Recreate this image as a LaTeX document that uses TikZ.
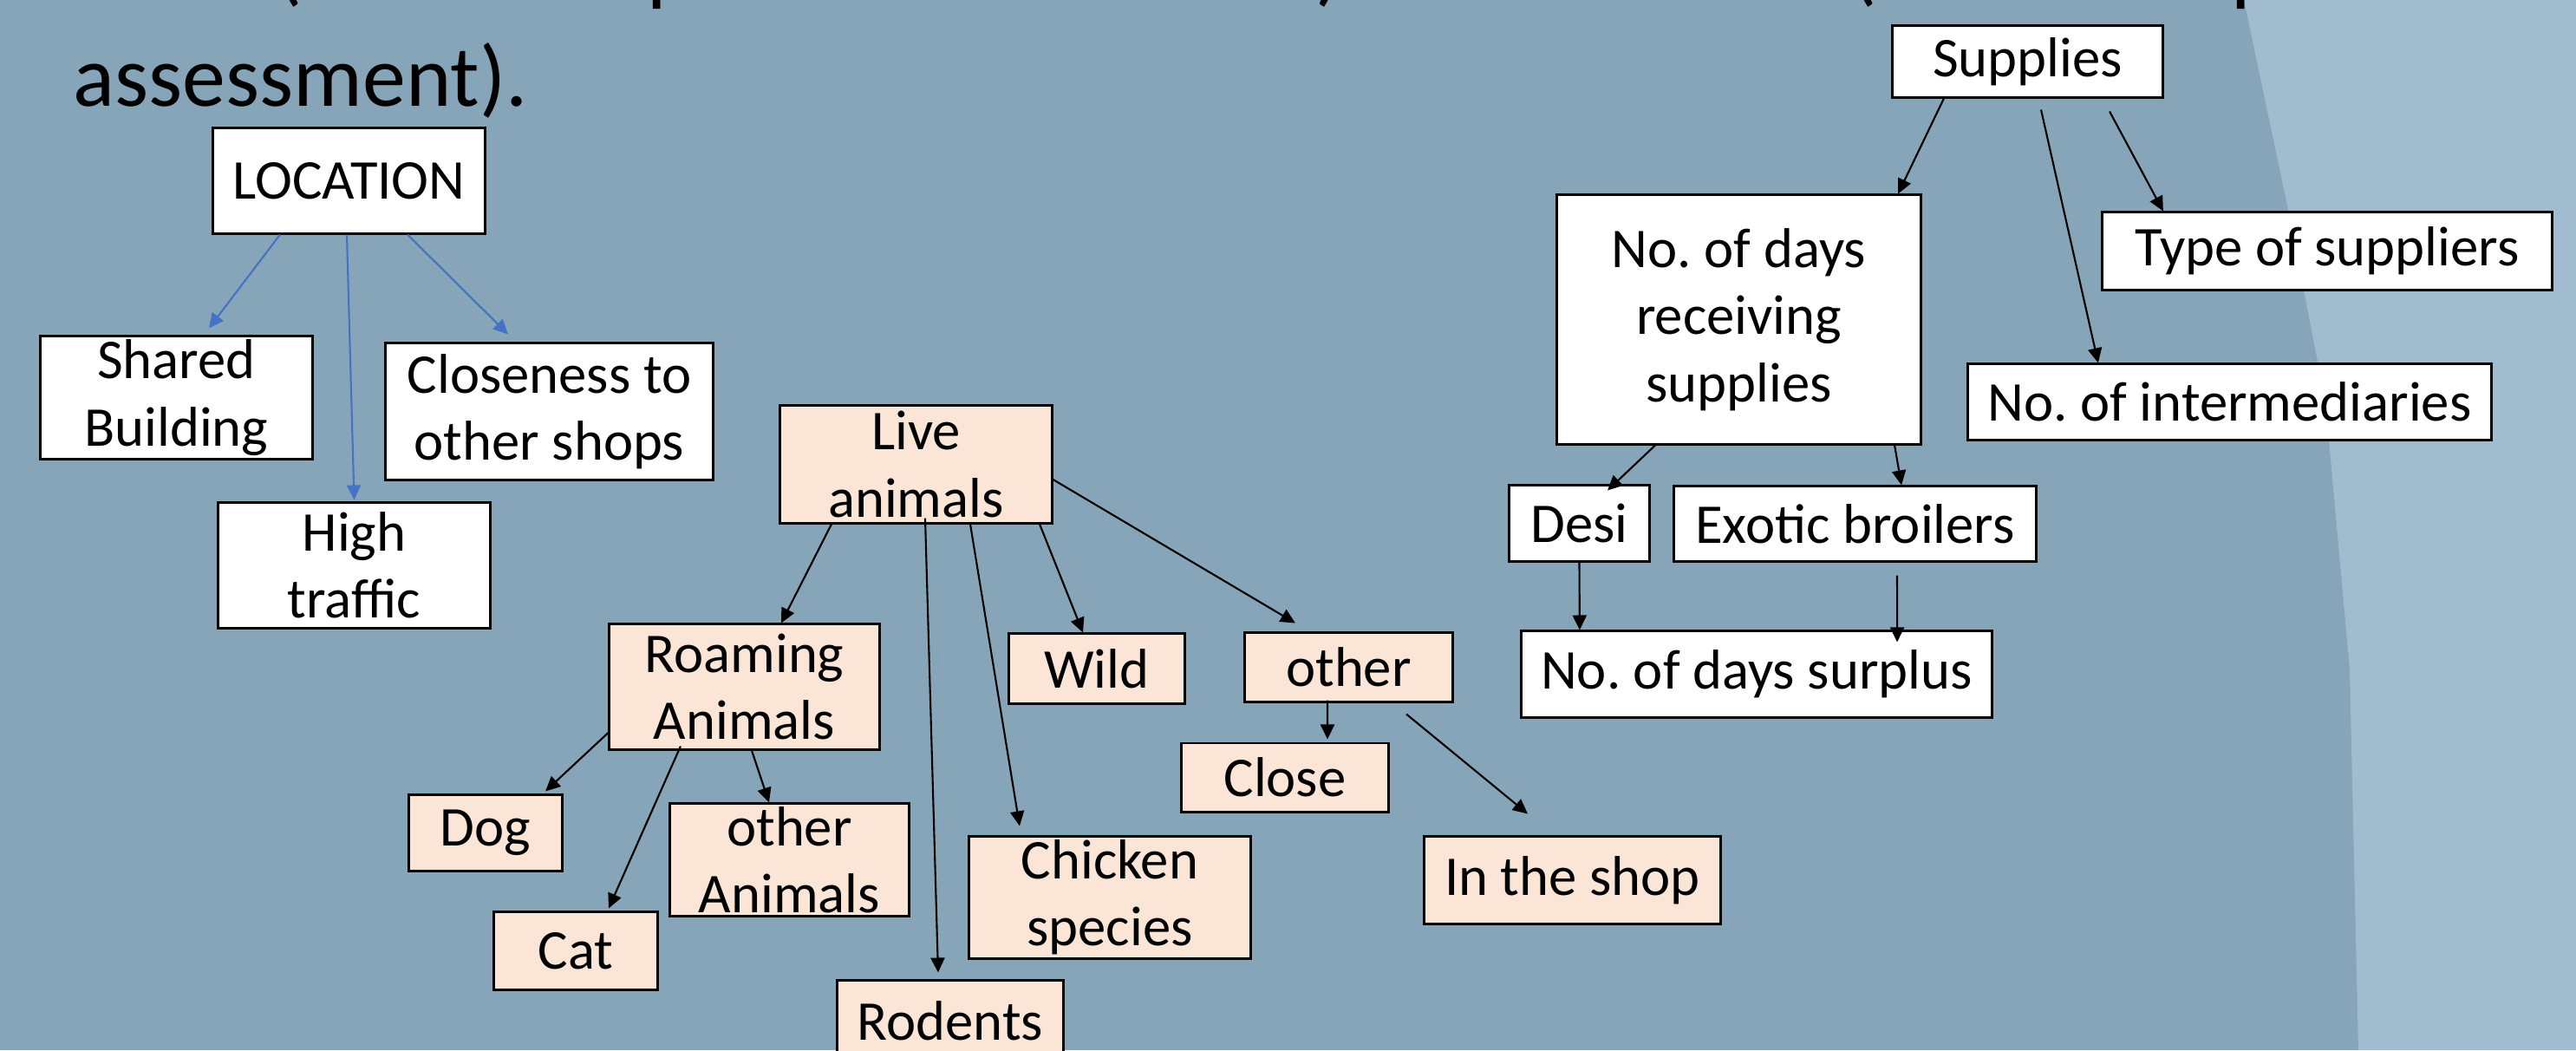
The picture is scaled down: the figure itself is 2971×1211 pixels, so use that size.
\documentclass[tikz,border=0pt]{standalone}
\usepackage{fontspec}
\setmainfont{Carlito}
\usetikzlibrary{arrows.meta,positioning}
\definecolor{slate}{RGB}{135,165,184}
\definecolor{lightslate}{RGB}{160,188,206}
\definecolor{peach}{RGB}{251,229,214}
\definecolor{linkblue}{RGB}{68,114,196}

\begin{document}
\frenchspacing
\begin{tikzpicture}[x=0.01cm, y=-0.01cm,
    box/.style={rectangle, draw=black, line width=0.85pt, align=center, inner sep=0pt, font=\fontsize{18.4}{22}\selectfont},
    wbox/.style={box, fill=white},
    pbox/.style={box, fill=peach},
    heading/.style={anchor=base west, inner sep=0pt, font=\fontsize{28.4}{34}\selectfont},
    arrow/.style={-{Triangle[length=1.7mm,width=1.6mm]}, line width=0.6pt, black},
    barrow/.style={arrow, linkblue}
]
    \useasboundingbox (0,0) rectangle (2971,1211);
    \clip (0,0) rectangle (2971,1211);
    \fill[slate] (0,0) rectangle (2971,1211);
    \fill[lightslate] (2588,0) -- (2637,232) -- (2682,463) -- (2710,772) -- (2720,1211) -- (2971,1211) -- (2971,0) -- cycle;

    % title lines, the first one cut by the top edge
    \node[heading] (titleA) at (318,-6) {(Animal exposure assessment) or to humans (Human exposure};
    \node[heading] (titleB) at (84,122) {assessment).};

    % location
    \node[wbox, minimum width=3.13cm, minimum height=1.21cm] (loc) at (402.5,208.5) {LOCATION};
    \node[wbox, minimum width=3.13cm, minimum height=1.41cm] (shared) at (203.5,458.5) {Shared\\Building};
    \node[wbox, minimum width=3.77cm, minimum height=1.57cm] (nearshops) at (633.5,474.5) {Closeness to\\other shops};
    \node[wbox, minimum width=3.13cm, minimum height=1.44cm] (traffic) at (408.5,652) {High\\traffic};

    % live animals
    \node[pbox, minimum width=3.13cm, minimum height=1.35cm] (live) at (1056.5,535.5) {Live\\animals};
    \node[pbox, minimum width=3.11cm, minimum height=1.44cm] (roam) at (858.5,792) {Roaming\\Animals};
    \node[pbox, minimum width=2.02cm, minimum height=0.80cm] (wild) at (1265,771) {Wild};
    \node[pbox, minimum width=2.39cm, minimum height=0.79cm] (other) at (1555.5,769.5) {other};
    \node[pbox, minimum width=2.38cm, minimum height=0.79cm] (closeby) at (1482,896.5) {Close};
    \node[pbox, minimum width=3.41cm, minimum height=1.00cm] (shop) at (1813.5,1015) {In the shop};
    \node[pbox, minimum width=1.76cm, minimum height=0.87cm] (dog) at (560,960.5) {Dog};
    \node[pbox, minimum width=2.75cm, minimum height=1.29cm] (otheran) at (910.5,991.5) {other\\Animals};
    \node[pbox, minimum width=1.88cm, minimum height=0.89cm] (cat) at (664,1096.5) {Cat};
    \node[pbox, minimum width=3.24cm, minimum height=1.40cm] (chicken) at (1280,1035) {Chicken\\species};
    \node[pbox, minimum width=2.60cm, minimum height=0.92cm] (rodents) at (1096,1177) {Rodents};

    % supplies
    \node[wbox, minimum width=3.11cm, minimum height=0.82cm] (supp) at (2338.5,71) {Supplies};
    \node[wbox, minimum width=4.19cm, minimum height=2.87cm] (days) at (2005.5,368.5) {No. of days\\receiving\\supplies};
    \node[wbox, minimum width=5.18cm, minimum height=0.89cm] (suptype) at (2684,289.5) {Type of suppliers};
    \node[wbox, minimum width=6.03cm, minimum height=0.87cm] (inter) at (2571.5,463.5) {No. of intermediaries};
    \node[wbox, minimum width=1.61cm, minimum height=0.87cm] (desi) at (1821.5,603.5) {Desi};
    \node[wbox, minimum width=4.17cm, minimum height=0.86cm] (exotic) at (2139.5,604) {Exotic broilers};
    \node[wbox, minimum width=5.42cm, minimum height=0.99cm] (surplus) at (2026,777.5) {No. of days surplus};

    \draw[barrow] ([xshift=-0.795cm]loc.south) -- ([xshift=0.375cm,yshift=0.08cm]shared.north);
    \draw[barrow] ([xshift=-0.025cm]loc.south) -- ([yshift=0.02cm]traffic.north);
    \draw[barrow] ([xshift=0.675cm]loc.south) -- ([xshift=-0.475cm,yshift=0.09cm]nearshops.north);

    \draw[arrow] ([xshift=-0.975cm]live.south) -- ([xshift=0.425cm]roam.north);
    \draw[arrow] ([xshift=0.105cm,yshift=0.07cm]live.south) -- ([xshift=-0.14cm,yshift=0.08cm]rodents.north);
    \draw[arrow] ([xshift=0.625cm]live.south) -- ([xshift=-1.04cm,yshift=0.11cm]chicken.north);
    \draw[arrow] ([xshift=1.425cm]live.south) -- ([xshift=-0.16cm]wild.north);
    \draw[arrow] ([yshift=-0.175cm]live.east) -- ([xshift=-0.615cm,yshift=0.10cm]other.north);
    \draw[arrow] ([xshift=-0.245cm,yshift=0.03cm]other.south) -- ([xshift=0.49cm,yshift=0.03cm]closeby.north);
    \draw[arrow] ([xshift=0.665cm,yshift=-0.13cm]other.south) -- ([xshift=-0.515cm,yshift=0.25cm]shop.north);
    \draw[arrow] ([yshift=-0.53cm]roam.west) -- ([xshift=0.69cm,yshift=0.03cm]dog.north);
    \draw[arrow] ([xshift=-0.735cm,yshift=0.05cm]roam.south) -- ([xshift=0.38cm,yshift=0.03cm]cat.north);
    \draw[arrow] ([xshift=0.085cm]roam.south) -- ([xshift=-0.235cm]otheran.north);

    \draw[arrow] ([xshift=-0.965cm]supp.south) -- ([xshift=1.835cm]days.north);
    \draw[arrow] ([xshift=0.155cm,yshift=-0.13cm]supp.south) -- ([xshift=-1.515cm]inter.north);
    \draw[arrow] ([xshift=0.945cm,yshift=-0.15cm]supp.south) -- ([xshift=-1.89cm]suptype.north);
    \draw[arrow] ([xshift=-0.965cm]days.south) -- ([xshift=0.325cm,yshift=-0.07cm]desi.north);
    \draw[arrow] ([xshift=1.795cm]days.south) -- ([xshift=0.535cm]exotic.north);
    \draw[arrow] (desi.south) -- ([xshift=-2.04cm]surplus.north);
    \draw[arrow] ([xshift=0.485cm,yshift=-0.15cm]exotic.south) -- ([xshift=1.62cm,yshift=-0.14cm]surplus.north);
\end{tikzpicture}
\end{document}
